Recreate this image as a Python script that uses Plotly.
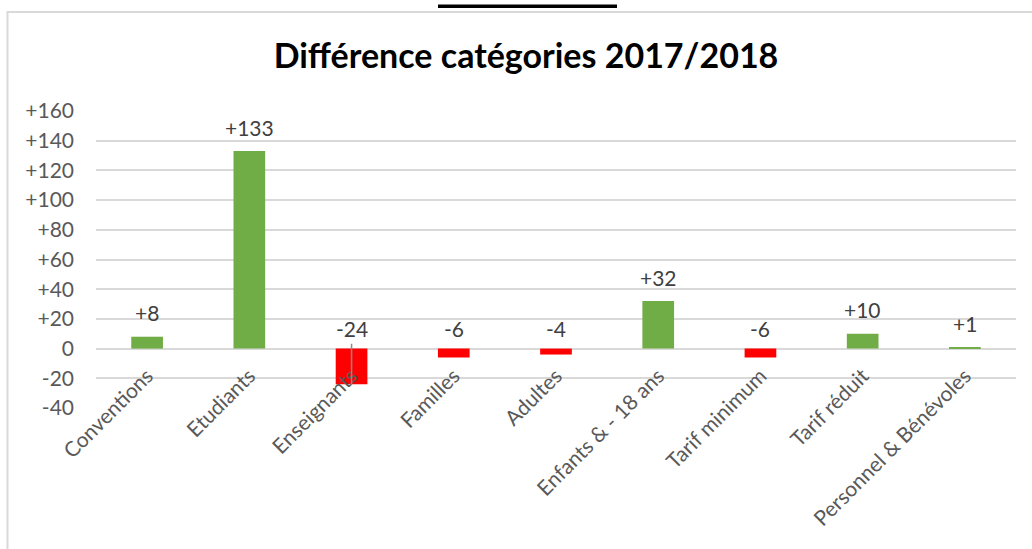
import plotly.graph_objects as go

categories = ["Conventions", "Etudiants", "Enseignants", "Familles", "Adultes",
              "Enfants & - 18 ans", "Tarif minimum", "Tarif réduit", "Personnel & Bénévoles"]
values = [8, 133, -24, -6, -4, 32, -6, 10, 1]
tick_vals = [-40, -20, 0, 20, 40, 60, 80, 100, 120, 140, 160]
tick_text = ["-40", "-20", "0", "+20", "+40", "+60", "+80", "+100", "+120", "+140", "+160"]
title_text = "Différence catégories 2017/2018"

GREEN = "#70AD47"
RED = "#FF0000"
FONT = "Lato"

colors = [GREEN if v >= 0 else RED for v in values]
labels = [f"+{v}" if v > 0 else str(v) for v in values]

# body margin removed by post_script, so figure pixels == screen pixels
PL, PR, PT, PB = 96, 1016, 111, 408
PW, PH = PR - PL, PB - PT

fig = go.Figure()
fig.add_trace(go.Bar(
    x=categories, y=values, marker=dict(color=colors, line=dict(width=0)),
    hoverinfo="x+y",
))

annotations = []
for c, v, t in zip(categories, values, labels):
    annotations.append(dict(
        x=c, y=max(v, 0), text=t, showarrow=False, xref="x", yref="y",
        yanchor="middle", yshift=24 if v > 0 else 20,
        font=dict(family=FONT, size=21, color="#404040"),
    ))

# leader line for the moved label of the largest negative bar
neg_idx = values.index(min(values))
annotations.append(dict(
    x=categories[neg_idx], y=values[neg_idx], xref="x", yref="y",
    ax=0, ay=4.3, ayref="y", text="", showarrow=True, arrowhead=0,
    arrowwidth=1.5, arrowcolor="#8C8C8C", standoff=0, startstandoff=0,
))

fig.update_layout(
    width=1032, height=549,
    margin=dict(l=PL, r=1032 - PR, t=PT, b=549 - PB),
    paper_bgcolor="white", plot_bgcolor="white",
    bargap=0.69,
    showlegend=False,
    title=dict(text=title_text, x=526 / 1032, xref="container", xanchor="center",
               y=1 - 56 / 549, yref="container", yanchor="middle",
               font=dict(family=FONT, size=34, color="#000000", weight="bold")),
    annotations=annotations,
    shapes=[
        dict(type="rect", xref="paper", yref="paper",
             x0=(7.5 - PL) / PW, x1=(1045 - PL) / PW,
             y0=(PB - 570) / PH, y1=(PB - 12) / PH,
             line=dict(color="#D9D9D9", width=2), fillcolor="rgba(0,0,0,0)", layer="below"),
        dict(type="rect", xref="paper", yref="paper",
             x0=(438 - PL) / PW, x1=(617 - PL) / PW,
             y0=(PB - 8) / PH, y1=(PB - 4.5) / PH,
             line=dict(width=0), fillcolor="#000000"),
    ],
)

fig.update_yaxes(
    range=[-40, 160], tickvals=tick_vals, ticktext=tick_text,
    showgrid=True, gridcolor="#D9D9D9", gridwidth=2,
    zeroline=True, zerolinecolor="#D9D9D9", zerolinewidth=2,
    showline=False, ticks="", ticklabelstandoff=21,
    tickfont=dict(family=FONT, size=21, color="#595959"),
    fixedrange=True,
)
fig.update_xaxes(
    anchor="free", position=(0 - (-40)) / 200,
    showgrid=False, showline=False, zeroline=False, ticks="",
    tickangle=-45, ticklabelstandoff=10,
    tickfont=dict(family=FONT, size=21, color="#595959"),
    fixedrange=True,
)

fig.write_html("out.html", config={"displayModeBar": False},
               post_script="document.body.style.margin='0';")
